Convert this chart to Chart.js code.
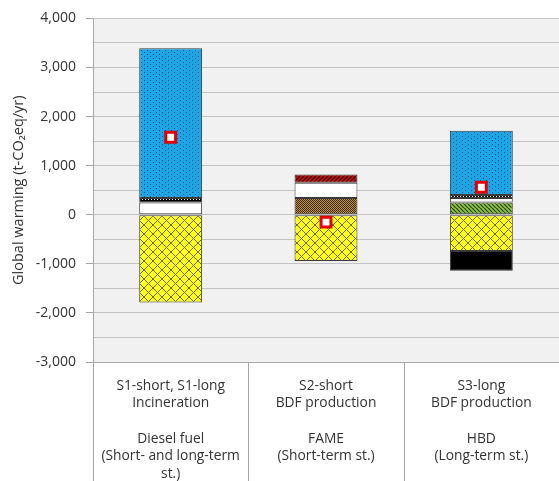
<!DOCTYPE html>
<html>
<head>
<meta charset="utf-8">
<script src="https://cdn.jsdelivr.net/npm/chart.js@4/dist/chart.umd.min.js"></script>
<style>
  html, body { margin: 0; padding: 0; background: #ffffff; }
  #wrap { width: 559px; height: 481px; position: relative; }
</style>
</head>
<body>
<div id="wrap"><canvas id="chart" width="559" height="481"></canvas></div>
<script>
// Scenario categories (multi-line axis labels)
const categories = [
  ['S1-short, S1-long', 'Incineration', '', 'Diesel fuel', '(Short- and long-term', 'st.)'],
  ['S2-short', 'BDF production', '', 'FAME', '(Short-term st.)'],
  ['S3-long', 'BDF production', '', 'HBD', '(Long-term st.)']
];

// Stacked contributions, t-CO2eq/yr (null = no segment)
const brownSeg    = [null, 340, null];
const greenSeg    = [null, null, 250];
const whiteSeg    = [250, 310, 90];
const blackDotSeg = [90, null, 60];
const redSeg      = [null, 170, null];
const blueSeg     = [3050, null, 1310];
const yellowSeg   = [-1790, -940, -740];
const blackSeg    = [null, null, -400];

// Net total per scenario
const netTotal = [1580, -150, 560];

// Y axis range and ticks
const yMin = -3000;
const yMax = 4000;
const yStep = 500;

// ---- fill patterns ----
function makePattern(w, h, draw) {
  const c = document.createElement('canvas');
  c.width = w; c.height = h;
  const g = c.getContext('2d');
  draw(g, w, h);
  return g.createPattern(c, 'repeat');
}

const ctx = document.getElementById('chart').getContext('2d');

const bluePat = makePattern(6, 4, (g, w, h) => {
  g.fillStyle = '#1ca6e8'; g.fillRect(0, 0, w, h);
  g.fillStyle = '#0c4f78';
  g.fillRect(0, 0, 1, 1);
  g.fillRect(3, 2, 1, 1);
});

const yellowPat = makePattern(9, 9, (g, s) => {
  g.fillStyle = '#ffff1a'; g.fillRect(0, 0, s, s);
  g.strokeStyle = '#6f6a2a'; g.lineWidth = 1;
  g.beginPath();
  g.moveTo(-1, -1); g.lineTo(s + 1, s + 1);
  g.moveTo(s + 1, -1); g.lineTo(-1, s + 1);
  g.stroke();
});

const brownPat = makePattern(2, 2, (g, s) => {
  g.fillStyle = '#c0922e'; g.fillRect(0, 0, s, s);
  g.fillStyle = '#3c2a0c';
  g.fillRect(0, 0, 1, 1);
  g.fillRect(1, 1, 1, 1);
});

const redPat = makePattern(4, 4, (g, s) => {
  g.fillStyle = '#c81010'; g.fillRect(0, 0, s, s);
  g.strokeStyle = '#3a0000'; g.lineWidth = 1.3;
  g.beginPath();
  for (let k = -s; k <= 2 * s; k += s) {
    g.moveTo(k, s); g.lineTo(k + s, 0);
  }
  g.stroke();
});

const greenPat = makePattern(4, 4, (g, s) => {
  g.fillStyle = '#8cc63f'; g.fillRect(0, 0, s, s);
  g.strokeStyle = '#2c3d12'; g.lineWidth = 1.2;
  g.beginPath();
  for (let k = -s; k <= 2 * s; k += s) {
    g.moveTo(k, 0); g.lineTo(k + s, s);
  }
  g.stroke();
});

const blackDotPat = makePattern(3, 3, (g, s) => {
  g.fillStyle = '#000000'; g.fillRect(0, 0, s, s);
  g.fillStyle = '#ffffff';
  g.fillRect(1, 1, 1, 1);
});

const edge = '#3a3a3a';
function barSet(label, data, fill) {
  return {
    type: 'bar', label, data,
    backgroundColor: fill,
    borderColor: edge, borderWidth: 1, borderSkipped: false,
    stack: 'total', order: 2
  };
}

// Plot background and the category separators below the axis
const frame = {
  id: 'frame',
  beforeDraw(chart) {
    const { ctx: c, chartArea: a } = chart;
    c.save();
    c.fillStyle = '#f1f1f1';
    c.fillRect(a.left, a.top, a.right - a.left, a.bottom - a.top);
    c.restore();
  },
  afterDraw(chart) {
    const { ctx: c, chartArea: a } = chart;
    const xs = chart.scales.x;
    c.save();
    c.strokeStyle = '#a6a6a6';
    c.lineWidth = 1;
    const n = chart.data.labels.length;
    const half = (xs.getPixelForValue(1) - xs.getPixelForValue(0)) / 2;
    for (let i = 0; i < n; i++) {
      const bx = Math.round(xs.getPixelForValue(i) - half) + 0.5;
      c.beginPath();
      c.moveTo(bx, a.bottom);
      c.lineTo(bx, chart.height);
      c.stroke();
    }
    c.restore();
  }
};

const textColor = '#333333';
const fontFamily = "'Open Sans', 'Liberation Sans', sans-serif";

new Chart(ctx, {
  data: {
    labels: categories,
    datasets: [
      barSet('BDF production (FAME)', brownSeg, brownPat),
      barSet('BDF production (HBD)', greenSeg, greenPat),
      barSet('Collection', whiteSeg, '#ffffff'),
      barSet('Transport', blackDotSeg, blackDotPat),
      barSet('Glycerol', redSeg, redPat),
      barSet('Combustion', blueSeg, bluePat),
      barSet('Fossil diesel substitution', yellowSeg, yellowPat),
      barSet('By-product credit', blackSeg, '#000000'),
      {
        type: 'line', label: 'Net', data: netTotal,
        showLine: false, stack: 'net', order: 0,
        pointStyle: 'rect', pointRadius: 7, pointHoverRadius: 7,
        pointBackgroundColor: '#ffffff', pointBorderColor: '#e00000',
        pointBorderWidth: 3
      }
    ]
  },
  options: {
    responsive: false,
    animation: false,
    events: [],
    layout: { autoPadding: false, padding: { top: 14, right: 0, bottom: 0, left: 0 } },
    plugins: { legend: { display: false }, tooltip: { enabled: false } },
    datasets: { bar: { categoryPercentage: 1, barPercentage: 0.405 } },
    scales: {
      x: {
        stacked: true,
        grid: { display: false },
        border: { display: true, color: '#a6a6a6' },
        ticks: {
          color: textColor, padding: 7, maxRotation: 0, autoSkip: false,
          font: { family: fontFamily, size: 13.8, lineHeight: 1.28 }
        },
        afterFit(scale) {
          scale.height = 119;
          scale.paddingLeft = 0;
          scale.paddingRight = 0;
        }
      },
      y: {
        stacked: true,
        min: yMin, max: yMax,
        border: { display: true, color: '#a6a6a6' },
        grid: {
          color: '#c3c3c3',
          tickLength: 7,
          tickColor: c => (c.tick && c.tick.value % 1000 === 0) ? '#a6a6a6' : 'rgba(0,0,0,0)'
        },
        ticks: {
          stepSize: yStep, color: textColor, padding: 10,
          font: { family: fontFamily, size: 14 },
          callback: v => (v % 1000 === 0) ? v.toLocaleString('en-US') : ''
        },
        title: {
          display: true, text: 'Global warming (t-CO\u2082eq/yr)',
          color: textColor, padding: { top: 10, bottom: 0 },
          font: { family: fontFamily, size: 14.5 }
        },
        afterFit(scale) { scale.width = 93; }
      }
    }
  },
  plugins: [frame]
});
</script>
</body>
</html>
